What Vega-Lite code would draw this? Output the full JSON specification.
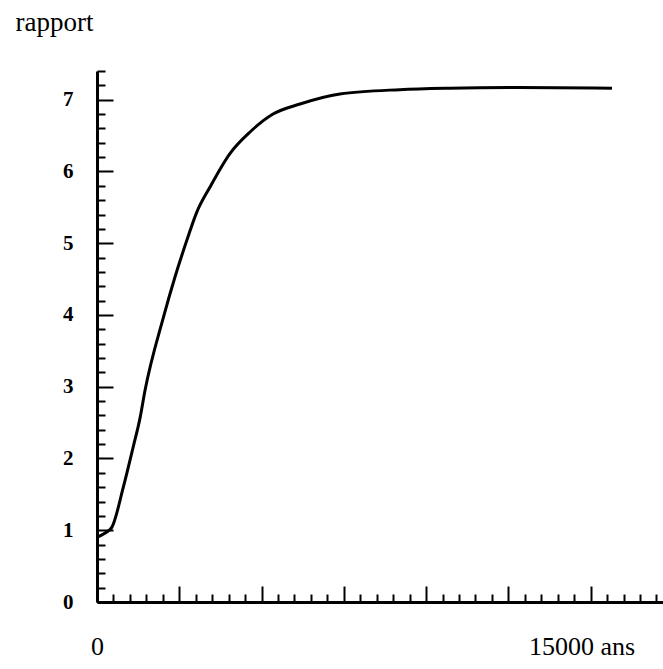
{
  "$schema": "https://vega.github.io/schema/vega-lite/v6.json",
  "width": 566,
  "height": 531,
  "autosize": "none",
  "padding": {"left": 97, "top": 71, "right": 0, "bottom": 67},
  "background": "white",
  "config": {"view": {"stroke": null}},
  "data": {"values": [
    {"annees": 0, "rapport": 0.90},
    {"annees": 210, "rapport": 0.95},
    {"annees": 450, "rapport": 1.04},
    {"annees": 800, "rapport": 1.60},
    {"annees": 1100, "rapport": 2.16},
    {"annees": 1310, "rapport": 2.57},
    {"annees": 1460, "rapport": 2.95},
    {"annees": 2020, "rapport": 3.97},
    {"annees": 2370, "rapport": 4.53},
    {"annees": 2730, "rapport": 5.04},
    {"annees": 3030, "rapport": 5.43},
    {"annees": 3430, "rapport": 5.78},
    {"annees": 4040, "rapport": 6.25},
    {"annees": 4650, "rapport": 6.55},
    {"annees": 5350, "rapport": 6.80},
    {"annees": 6170, "rapport": 6.94},
    {"annees": 7380, "rapport": 7.08},
    {"annees": 9200, "rapport": 7.14},
    {"annees": 10700, "rapport": 7.16},
    {"annees": 12800, "rapport": 7.17},
    {"annees": 15650, "rapport": 7.16}
  ]},
  "resolve": {"axis": {"x": "independent", "y": "independent"}},
  "layer": [
    {
      "mark": {"type": "line", "color": "black", "strokeWidth": 3, "interpolate": "monotone", "opacity": 0},
      "encoding": {
        "x": {
          "field": "annees",
          "type": "quantitative",
          "scale": {"domain": [0, 17200], "nice": false, "zero": false},
          "axis": {
            "orient": "bottom",
            "title": null,
            "grid": false,
            "domain": false,
            "labels": false,
            "values": [500,1000,1500,2000,3000,3500,4000,4500,5500,6000,6500,7000,8000,8500,9000,9500,10500,11000,11500,12000,13000,13500,14000,14500,15500,16000,16500,17000],
            "tickColor": "black",
            "tickWidth": 2,
            "tickSize": -8
          }
        },
        "y": {
          "field": "rapport",
          "type": "quantitative",
          "scale": {"domain": [0, 7.4], "nice": false, "zero": false},
          "axis": {
            "orient": "left",
            "title": null,
            "grid": false,
            "domain": false,
            "labels": false,
            "values": [0.2,0.4,0.6,0.8,1.2,1.4,1.6,1.8,2.2,2.4,2.6,2.8,3.2,3.4,3.6,3.8,4.2,4.4,4.6,4.8,5.2,5.4,5.6,5.8,6.2,6.4,6.6,6.8,7.2,7.4],
            "tickColor": "black",
            "tickWidth": 2,
            "tickSize": -8
          }
        }
      }
    },
    {
      "mark": {"type": "line", "color": "black", "strokeWidth": 3, "interpolate": "monotone"},
      "encoding": {
        "x": {
          "field": "annees",
          "type": "quantitative",
          "scale": {"domain": [0, 17200], "nice": false, "zero": false},
          "axis": {
            "orient": "bottom",
            "title": null,
            "grid": false,
            "values": [0,2500,5000,7500,10000,12500,15000],
            "domainColor": "black",
            "domainWidth": 3,
            "tickColor": "black",
            "tickWidth": 2,
            "tickSize": -16,
            "labelExpr": "datum.value == 0 ? '0' : (datum.value == 15000 ? '15000 ans' : '')",
            "labelOffset": {"condition": {"test": "datum.value == 15000", "value": -9}, "value": 0},
            "labelFont": "Liberation Serif",
            "labelFontSize": 26,
            "labelColor": "black",
            "labelPadding": 47,
            "labelFlush": false,
            "labelOverlap": false,
            "labelBound": false
          }
        },
        "y": {
          "field": "rapport",
          "type": "quantitative",
          "scale": {"domain": [0, 7.4], "nice": false, "zero": false},
          "axis": {
            "orient": "left",
            "title": "rapport",
            "titleAngle": 0,
            "titleAlign": "left",
            "titleBaseline": "alphabetic",
            "titleX": -82,
            "titleY": -41,
            "titleFont": "Liberation Serif",
            "titleFontSize": 27,
            "titleFontWeight": "normal",
            "titleColor": "black",
            "grid": false,
            "values": [0,1,2,3,4,5,6,7],
            "format": "d",
            "domainColor": "black",
            "domainWidth": 3,
            "tickColor": "black",
            "tickWidth": 2,
            "tickSize": -16,
            "labelFont": "Liberation Serif",
            "labelFontSize": 21,
            "labelFontWeight": "bold",
            "labelColor": "black",
            "labelPadding": 40,
            "labelBaseline": "middle",
            "labelOverlap": false,
            "labelFlush": false,
            "labelBound": false
          }
        }
      }
    }
  ]
}
